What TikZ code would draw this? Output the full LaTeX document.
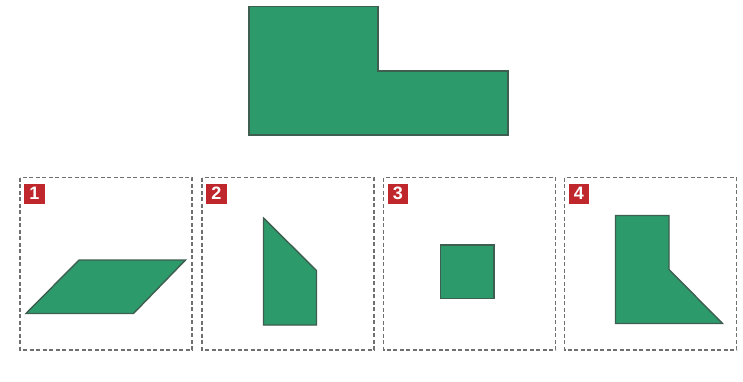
\documentclass[tikz,border=0pt]{standalone}
\usepackage{fontspec}
\setmainfont{Liberation Sans}
\definecolor{shapegreen}{HTML}{2C9A6B}
\definecolor{shapeedge}{HTML}{3E5E50}
\definecolor{labelred}{HTML}{C0272D}
\definecolor{boxgrey}{HTML}{707070}
\tikzset{
  figshape/.style={fill=shapegreen, draw=shapeedge, line width=1.4pt, line join=miter},
  optbox/.style={draw=boxgrey, dash pattern=on 4pt off 2.5pt, line width=1.3pt},
  optlabel/.style={fill=labelred, text=white, font=\bfseries\fontsize{18}{18}\selectfont, minimum width=20.5pt, minimum height=20pt, inner sep=0pt, anchor=north west}
}
\begin{document}
\begin{tikzpicture}[x=1pt, y=-1pt]
\useasboundingbox (0,0) rectangle (743,382);
% main figure
\draw[figshape] (249,6.5) -- (378,6.5) -- (378,71) -- (508,71) -- (508,135) -- (249,135) -- cycle;
% option boxes
\foreach \bx/\n in {20/1, 202/2, 383.5/3, 564.5/4} {
  \draw[optbox] (\bx,177.5) rectangle ++(172,172.5);
  \node[optlabel] (lab\n) at (\bx+4,183.5) {\n};
}
% option 1: parallelogram
\draw[figshape] (26,313.5) -- (133.5,313.5) -- (185.5,260) -- (79,260) -- cycle;
% option 2
\draw[figshape] (263.5,218) -- (316.5,270.5) -- (316.5,325) -- (263.5,325) -- cycle;
% option 3: square
\draw[figshape] (440.5,245) rectangle (494,298.5);
% option 4
\draw[figshape] (615.5,215.5) -- (669,215.5) -- (669,269.5) -- (722.5,323.5) -- (615.5,323.5) -- cycle;
\end{tikzpicture}
\end{document}
